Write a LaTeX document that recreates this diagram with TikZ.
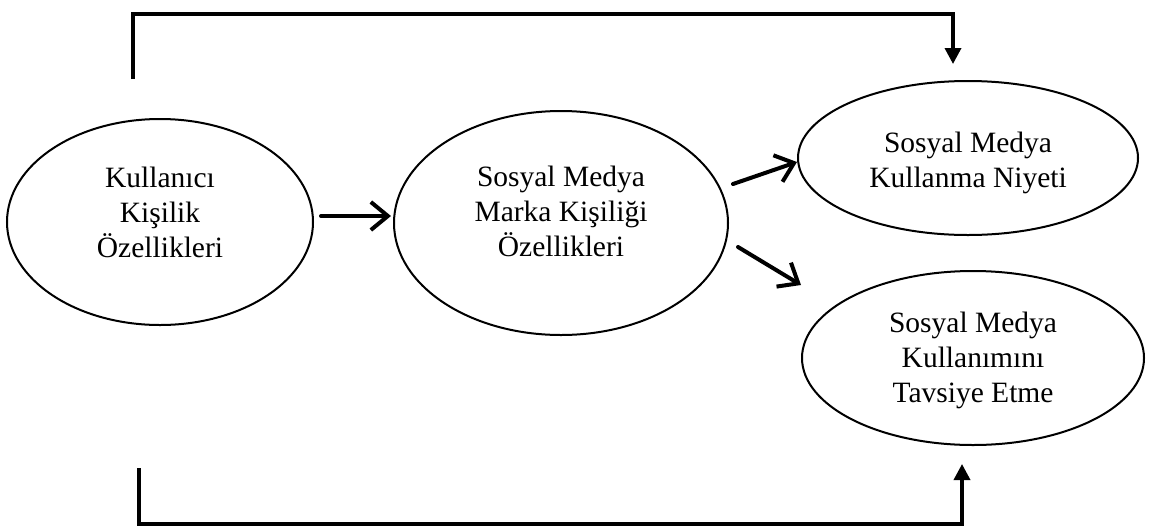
\documentclass[tikz,border=0pt]{standalone}
\usepackage{fontspec}
\setmainfont{Liberation Serif}
\usetikzlibrary{arrows.meta,shapes.geometric}
\begin{document}
\begin{tikzpicture}[x=1pt,y=-1pt,
  bubble/.style={ellipse, draw, line width=2pt, inner sep=0pt},
  caption/.style={align=center, font=\fontsize{29.5}{35}\selectfont},
  link/.style={line width=4pt, line cap=round,
    -{Straight Barb[length=17pt,width=28pt,line width=4pt]}},
  loop/.style={line width=3.5pt, -{Triangle[length=16pt,width=16pt]}}]

% canvas
\fill[white] (0,0) rectangle (1159,528);
\useasboundingbox (0,0) rectangle (1159,528);

% constructs
\node[bubble, minimum width=306pt, minimum height=206pt,
  label={[caption,yshift=10pt]center:{Kullanıcı\\Kişilik\\Özellikleri}}]
  (user) at (160,222) {};
\node[bubble, minimum width=334pt, minimum height=224pt,
  label={[caption,yshift=12pt]center:{Sosyal Medya\\Marka Kişiliği\\Özellikleri}}]
  (brand) at (561,223) {};
\node[bubble, minimum width=340pt, minimum height=154pt,
  label={[caption,yshift=-5pt]center:{Sosyal Medya\\Kullanma Niyeti}}]
  (intent) at (968,158) {};
\node[bubble, minimum width=342pt, minimum height=174pt,
  label={[caption,yshift=-2pt]center:{Sosyal Medya\\Kullanımını\\Tavsiye Etme}}]
  (advice) at (973,358) {};

% direct effects
\draw[link] ([shift={(7,-6)}]user.east) -- ([shift={(-2,-7)}]brand.west);
\draw[link] ([shift={(4,-39)}]brand.east) -- ([shift={(0,4)}]intent.west);
\draw[link] ([shift={(9,24)}]brand.east) -- ([shift={(0,-73)}]advice.west);

% direct paths from user traits to outcomes
\draw[loop] ([shift={(-27,-39)}]user.north) -- ++(0,-65)
  -| ([shift={(-15,-16)}]intent.north);
\draw[loop] ([shift={(-21,142)}]user.south) -- ++(0,56)
  -| ([shift={(-11,18)}]advice.south);
\end{tikzpicture}
\end{document}
